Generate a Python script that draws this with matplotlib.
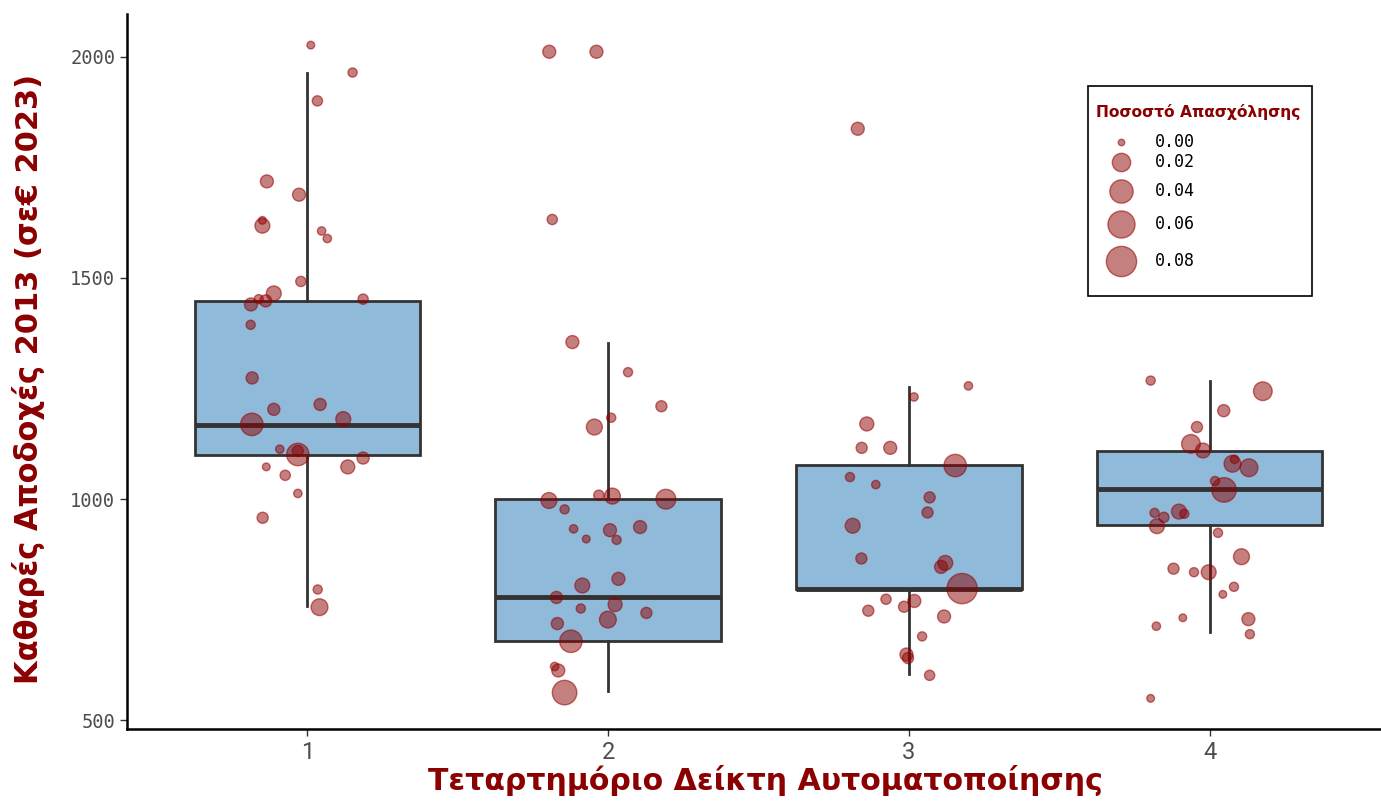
import numpy as np
import matplotlib
matplotlib.use('Agg')
import matplotlib.pyplot as plt
from matplotlib.patches import Rectangle

# quartile groups of the automation index
groups = [1, 2, 3, 4]

# box statistics
q1 = [1100, 679, 797, 941]
med = [1168, 778, 798, 1023]
q3 = [1448, 1000, 1077, 1109]
whislo = [758, 566, 604, 699]
whishi = [1964, 1353, 1253, 1267]

# jittered points: x position, net earnings, employment share
g1_x = [1.011, 1.150, 1.033, 0.865, 0.972, 0.850, 0.850, 1.047, 1.066, 0.978, 0.888, 0.861, 0.838, 0.812, 1.185, 0.811,
        0.816, 0.888, 1.042, 1.119, 0.815, 0.908, 0.968, 0.968, 1.185, 0.863, 0.926, 1.134, 0.968, 0.851, 1.034, 1.040]
g1_y = [2026, 1964, 1900, 1718, 1688, 1630, 1618, 1606, 1589, 1492, 1465, 1448, 1452, 1440, 1452, 1394,
        1274, 1203, 1214, 1181, 1169, 1113, 1101, 1109, 1093, 1073, 1054, 1073, 1013, 958, 796, 756]
g1_s = [0.0002, 0.001, 0.002, 0.006, 0.006, 0.0002, 0.01, 0.0005, 0.0005, 0.002, 0.01, 0.0045, 0.001, 0.006, 0.002, 0.001,
        0.0045, 0.0045, 0.0045, 0.01, 0.036, 0.0005, 0.036, 0.003, 0.0045, 0.0002, 0.002, 0.008, 0.0005, 0.003, 0.001, 0.015]

g2_x = [1.804, 1.961, 1.814, 1.881, 2.066, 2.177, 2.010, 1.954, 1.969, 2.014, 2.192, 1.803, 1.855, 1.885, 1.927,
        2.006, 2.106, 2.028, 2.034, 1.914, 1.828, 2.023, 1.909, 2.127, 1.999, 1.831, 1.876, 1.822, 1.834, 1.855]
g2_y = [2011, 2011, 1632, 1355, 1287, 1210, 1184, 1163, 1009, 1007, 1000, 997, 977, 933, 910,
        930, 937, 908, 820, 805, 778, 762, 753, 743, 728, 719, 679, 622, 613, 563]
g2_s = [0.006, 0.006, 0.002, 0.006, 0.001, 0.003, 0.001, 0.0126, 0.002, 0.0126, 0.025, 0.0126, 0.001, 0.0005, 0.0002,
        0.006, 0.006, 0.001, 0.006, 0.01, 0.0045, 0.008, 0.001, 0.003, 0.015, 0.0045, 0.036, 0.0005, 0.006, 0.046]

g3_x = [2.830, 3.198, 3.017, 2.860, 2.843, 2.938, 3.154, 2.804, 2.890, 3.069, 3.062, 2.813, 2.842,
        3.121, 3.107, 3.177, 2.924, 3.018, 2.984, 2.865, 3.117, 3.044, 2.992, 2.997, 3.069]
g3_y = [1837, 1256, 1231, 1170, 1116, 1116, 1076, 1050, 1033, 1004, 970, 940, 866,
        856, 847, 798, 774, 770, 757, 748, 735, 690, 649, 641, 602]
g3_s = [0.006, 0.0005, 0.0005, 0.008, 0.003, 0.006, 0.036, 0.001, 0.0005, 0.003, 0.003, 0.01, 0.003,
        0.01, 0.006, 0.08, 0.002, 0.006, 0.003, 0.003, 0.006, 0.001, 0.006, 0.003, 0.002]

g4_x = [3.804, 4.177, 4.047, 3.958, 3.938, 3.978, 4.076, 4.083, 4.131, 4.018, 4.048, 3.817, 3.848, 3.898,
        3.916, 3.825, 4.028, 4.106, 3.880, 3.948, 3.997, 4.081, 4.044, 3.911, 4.129, 3.823, 4.134, 3.804]
g4_y = [1268, 1244, 1200, 1163, 1125, 1110, 1080, 1090, 1071, 1041, 1021, 969, 959, 972,
        967, 939, 924, 870, 843, 835, 835, 802, 785, 732, 729, 713, 695, 550]
g4_s = [0.001, 0.021, 0.0045, 0.003, 0.021, 0.01, 0.015, 0.0005, 0.018, 0.001, 0.046, 0.001, 0.002, 0.01,
        0.001, 0.01, 0.001, 0.0126, 0.003, 0.001, 0.01, 0.001, 0.0002, 0.0002, 0.006, 0.0005, 0.001, 0.0002]

legend_vals = [0.00, 0.02, 0.04, 0.06, 0.08]

red = '#8B0000'
pt_face = (0.545, 0, 0, 0.5)
pt_edge = (0.6, 0.0, 0.0, 0.55)


def diam_px(v):
    # marker diameter grows with sqrt(share), like ggplot's scale_size
    return 6.5 + 84 * np.sqrt(np.asarray(v, dtype=float))


def area(v):
    return (diam_px(v) * 0.72) ** 2


fig = plt.figure(figsize=(13.81, 8.05), dpi=100)
ax = fig.add_axes([0.092, 0.094, 0.908, 0.889])
H = 715.0  # axes height in px

stats = []
for i in range(4):
    stats.append({'q1': q1[i], 'med': med[i], 'q3': q3[i],
                  'whislo': whislo[i], 'whishi': whishi[i], 'fliers': []})

ax.bxp(stats, positions=groups, widths=0.75, patch_artist=True, showfliers=False, showcaps=False,
       boxprops=dict(facecolor='#8fbad9', edgecolor='#333333', linewidth=2),
       whiskerprops=dict(color='#333333', linewidth=2),
       medianprops=dict(color='#333333', linewidth=3.5))

xs = g1_x + g2_x + g3_x + g4_x
ys = g1_y + g2_y + g3_y + g4_y
ss = g1_s + g2_s + g3_s + g4_s
ax.scatter(xs, ys, s=area(ss), facecolor=pt_face, edgecolor=pt_edge, linewidth=1.0, zorder=5)

ax.set_xlim(0.4, 4.57)
ax.set_ylim(480, 2097)
ax.set_xticks(groups)
ax.set_xticklabels([str(g) for g in groups], fontsize=17, color='#4d4d4d', family='Roboto')
ax.set_yticks([500, 1000, 1500, 2000])
ax.set_yticklabels(['500', '1000', '1500', '2000'], fontsize=13.5, color='#4d4d4d', family='DejaVu Sans Mono')
ax.tick_params(axis='both', length=5, width=1, color='#333333')

for side in ['top', 'right']:
    ax.spines[side].set_visible(False)
for side in ['left', 'bottom']:
    ax.spines[side].set_linewidth(1.8)

ax.set_xlabel('Τεταρτημόριο Δείκτη Αυτοματοποίησης', fontsize=21.6, fontweight='bold', color=red,
              family='DejaVu Sans')
ax.xaxis.set_label_coords(0.5088, -0.050)
ax.set_ylabel('Καθαρές Αποδοχές 2013 (σε€ 2023)', fontsize=22, fontweight='bold', color=red,
              family='DejaVu Sans')
ax.yaxis.set_label_coords(-0.0654, 0.4895)

# legend drawn by hand so rows can grow with the circle size, as in ggplot
ax.add_patch(Rectangle((0.7663, 0.6056), 0.1787, 0.2937, transform=ax.transAxes, facecolor='white',
                       edgecolor='black', linewidth=1.2, zorder=6, clip_on=False))
ax.text(0.7727, 0.8629, 'Ποσοστό Απασχόλησης', transform=ax.transAxes, fontsize=11.2, fontweight='bold',
        color=red, family='DejaVu Sans', va='center', ha='left', zorder=7)
d = diam_px(legend_vals)
row_px = 142.0
for i, v in enumerate(legend_vals):
    if i > 0:
        row_px += (d[i - 1] + d[i]) / 2 + 8
    ya = (729 - row_px) / H
    ax.scatter([0.7927], [ya], s=area(v), transform=ax.transAxes, facecolor=pt_face, edgecolor=pt_edge,
               linewidth=1.0, zorder=7, clip_on=False)
    ax.text(0.8198, ya, '%.2f' % v, transform=ax.transAxes, fontsize=12, family='DejaVu Sans Mono',
            color='black', va='center', ha='left', zorder=7)

fig.savefig('out.png', dpi=100)
